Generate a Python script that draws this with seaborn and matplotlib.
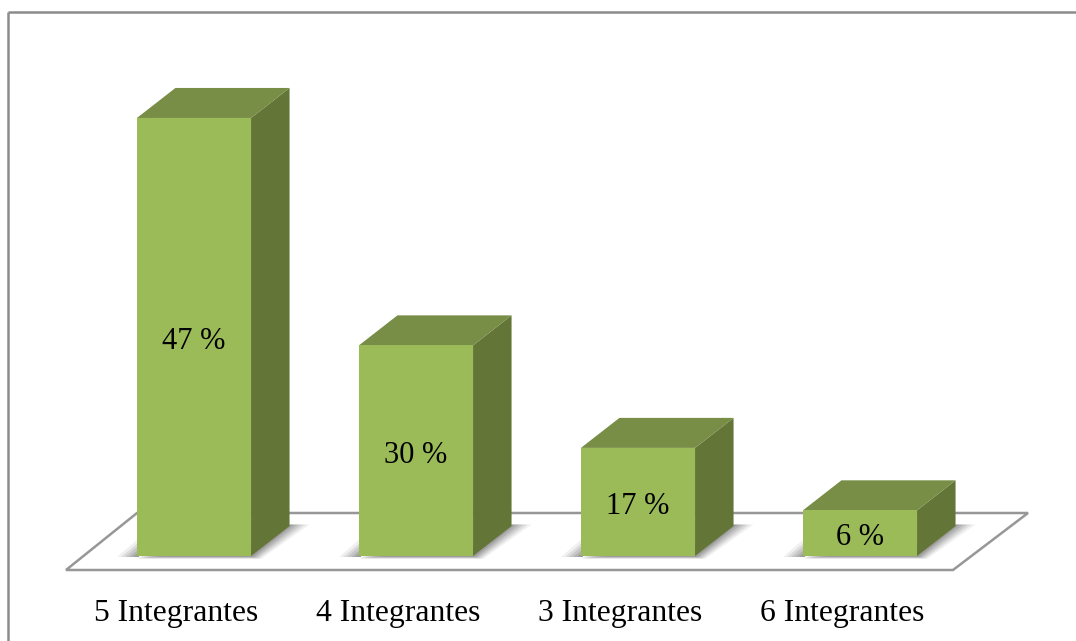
import matplotlib
matplotlib.use("Agg")
import matplotlib.pyplot as plt
import pandas as pd
import seaborn as sns
from matplotlib.patches import Polygon
from matplotlib.transforms import ScaledTranslation

# categories and the labels typed on the bars
categories = ["5 Integrantes", "4 Integrantes", "3 Integrantes", "6 Integrantes"]
bar_text = ["47 %", "30 %", "17 %", "6 %"]
# drawn heights (they are not proportional to the labels)
bar_heights = [47, 22.6, 11.6, 4.9]

FRONT = "#9BBB59"
SIDE = "#637537"
TOP = "#788D45"
LINE = "#979797"
DEPTH_X, DEPTH_Y = 38.5, 30  # pixels

W, H = 1076, 641
sns.set_theme(style="white")
plt.rcParams["font.family"] = ["Liberation Serif", "DejaVu Serif"]

fig = plt.figure(figsize=(W / 100, H / 100), dpi=100)
ax = fig.add_axes([83 / W, (H - 556) / H, 888 / W, 466 / H])

df = pd.DataFrame({"grupo": categories, "valor": bar_heights})
sns.barplot(data=df, x="grupo", y="valor", color=FRONT, saturation=1, width=0.514,
            linewidth=0, ax=ax, zorder=5)
ax.set_ylim(0, 50)
ax.set_xlabel("")
ax.set_ylabel("")
ax.set_yticks([])
sns.despine(ax=ax, left=True, bottom=True)
ax.patch.set_alpha(0)
ax.tick_params(axis="x", length=0, pad=30.6, labelsize=22.8, labelcolor="black")

# tick labels sit a bit left of the bars in the original
shift = ScaledTranslation(-18 / 100, 0, fig.dpi_scale_trans)
for lab in ax.get_xticklabels():
    lab.set_transform(lab.get_transform() + shift)

texts = ax.bar_label(ax.containers[0], labels=bar_text, label_type="center",
                     fontsize=22, color="black", zorder=8)
for t in texts:
    t.xyann = (0, -3.2)

# overlay in pixel coordinates for frame, floor and the 3d faces
ov = fig.add_axes([0, 0, 1, 1], zorder=-1)
ov.set_xlim(0, W)
ov.set_ylim(H, 0)
ov.axis("off")

# chart frame
ov.plot([8, 8], [H, 12], color="#8c8c8c", lw=1.8, solid_capstyle="butt")
ov.plot([8, W], [12, 12], color="#8c8c8c", lw=1.8, solid_capstyle="butt")

# floor
ov.add_patch(Polygon([(66, 570), (953, 570), (1028, 513), (137, 513)], closed=True,
                     fc="white", ec=LINE, lw=1.8, zorder=1))

fig.canvas.draw()
for bar in ax.containers[0]:
    (x0, y0), (x1, y1) = ax.transData.transform([(bar.get_x(), 0),
                                                 (bar.get_x() + bar.get_width(), bar.get_height())])
    base, top = H - y0, H - y1
    # soft shadow on the floor, stacked translucent shapes
    for grow, a in [(20, 0.08), (16, 0.11), (12, 0.13), (8, 0.15), (4, 0.18)]:
        ov.add_patch(Polygon([(x0 - grow, base + 1), (x0 + 2, base + 1), (x0 + 2, base - grow * 0.9)],
                             closed=True, fc="#404040", ec="none", alpha=a, zorder=2))
        ov.add_patch(Polygon([(x0, base + 0.5 + grow * 0.12), (x1 + grow * 0.5, base + 0.5 + grow * 0.12),
                              (x1 + DEPTH_X + grow, base - DEPTH_Y - 1.5),
                              (x1 + DEPTH_X, base - DEPTH_Y - 1.5), (x1, base - 10)],
                             closed=True, fc="#404040", ec="none", alpha=a, zorder=2))
    ov.add_patch(Polygon([(x1, base), (x1 + DEPTH_X, base - DEPTH_Y),
                          (x1 + DEPTH_X, top - DEPTH_Y), (x1, top)],
                         closed=True, fc=SIDE, ec="none", zorder=3))
    ov.add_patch(Polygon([(x0, top), (x0 + DEPTH_X, top - DEPTH_Y),
                          (x1 + DEPTH_X, top - DEPTH_Y), (x1, top)],
                         closed=True, fc=TOP, ec="none", zorder=3))

fig.savefig("out.png", dpi=100)
